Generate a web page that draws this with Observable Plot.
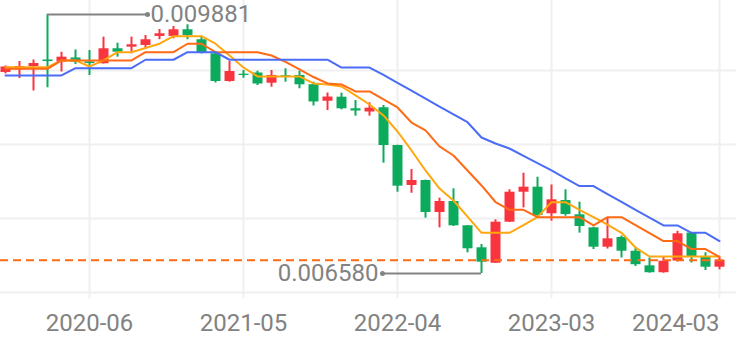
<!DOCTYPE html>
<html><head><meta charset="utf-8">
<script src="https://cdn.jsdelivr.net/npm/d3@7"></script>
<script src="https://cdn.jsdelivr.net/npm/@observablehq/plot@0.6"></script>
<style>
html,body{margin:0;padding:0;background:#fff;}
#chart svg{display:block;}
</style></head><body><div id="chart"></div>
<script>
const months = ["2019-12",
"2020-01","2020-02","2020-03","2020-04","2020-05","2020-06","2020-07","2020-08","2020-09","2020-10","2020-11","2020-12",
"2021-01","2021-02","2021-03","2021-04","2021-05","2021-06","2021-07","2021-08","2021-09","2021-10","2021-11","2021-12",
"2022-01","2022-02","2022-03","2022-04","2022-05","2022-06","2022-07","2022-08","2022-09","2022-10","2022-11","2022-12",
"2023-01","2023-02","2023-03","2023-04","2023-05","2023-06","2023-07","2023-08","2023-09","2023-10","2023-11","2023-12",
"2024-01","2024-02","2024-03"];

const open = [0.009142,0.009176,0.009218,0.009301,0.009273,0.009327,0.009276,0.009253,0.009444,0.009464,
0.009486,0.009601,0.009601,0.009686,0.009559,0.009380,0.009027,0.009120,0.009135,0.009005,
0.009100,0.009104,0.008986,0.008775,0.008827,0.008679,0.008638,0.008692,0.008211,0.007702,
0.007765,0.007357,0.007498,0.007188,0.006908,0.006711,0.007234,0.007616,0.007680,0.007341,
0.007510,0.007328,0.007162,0.006915,0.007039,0.006864,0.006678,0.006590,0.006739,0.007096,
0.006797,0.006660];
const close = [0.009212,0.009218,0.009256,0.009282,0.009337,0.009273,0.009256,0.009444,0.009400,0.009495,
0.009559,0.009635,0.009686,0.009613,0.009384,0.009027,0.009154,0.009104,0.008995,0.009104,
0.009082,0.008985,0.008766,0.008829,0.008679,0.008651,0.008687,0.008211,0.007693,0.007765,
0.007357,0.007498,0.007188,0.006895,0.006724,0.007234,0.007616,0.007680,0.007319,0.007519,
0.007332,0.007179,0.006915,0.007022,0.006864,0.006692,0.006590,0.006737,0.007086,0.006797,
0.006660,0.006749];
const high = [0.009225,0.009282,0.009301,0.009881,0.009400,0.009429,0.009422,0.009592,0.009515,0.009592,
0.009613,0.009690,0.009728,0.009750,0.009592,0.009384,0.009282,0.009167,0.009158,0.009167,
0.009189,0.009158,0.009018,0.008880,0.008878,0.008785,0.008756,0.008721,0.008215,0.007905,
0.007770,0.007540,0.007659,0.007192,0.006950,0.007264,0.007647,0.007858,0.007807,0.007708,
0.007647,0.007489,0.007170,0.007287,0.007058,0.006905,0.006778,0.006793,0.007119,0.007100,
0.006844,0.006780];
const low = [0.009123,0.009065,0.008906,0.008947,0.009148,0.009244,0.009104,0.009250,0.009337,0.009380,
0.009444,0.009559,0.009571,0.009559,0.009378,0.009008,0.009018,0.009069,0.008976,0.008954,
0.009018,0.008934,0.008715,0.008657,0.008666,0.008585,0.008585,0.007986,0.007616,0.007603,
0.007285,0.007162,0.007179,0.006844,0.006580,0.006708,0.007230,0.007417,0.007310,0.007247,
0.007310,0.007094,0.006886,0.006892,0.006778,0.006669,0.006584,0.006584,0.006727,0.006714,
0.006618,0.006627];

const ma5 = [0.009209,0.009209,0.009209,0.009209,0.009295,0.009295,0.009218,0.009295,0.009400,0.009400,
0.009454,0.009508,0.009604,0.009604,0.009604,0.009508,0.009358,0.009205,0.009091,0.009091,
0.009091,0.009091,0.009002,0.008989,0.008963,0.008849,0.008734,0.008594,0.008390,0.008148,
0.007893,0.007663,0.007510,0.007306,0.007099,0.007099,0.007099,0.007198,0.007298,0.007489,
0.007489,0.007392,0.007298,0.007204,0.007099,0.006911,0.006797,0.006797,0.006797,0.006797,
0.006797,0.006797];
const ma10 = [0.009189,0.009189,0.009189,0.009189,0.009295,0.009295,0.009295,0.009295,0.009295,0.009295,
0.009400,0.009400,0.009400,0.009508,0.009508,0.009400,0.009400,0.009400,0.009400,0.009358,
0.009276,0.009180,0.009084,0.009002,0.008989,0.008900,0.008900,0.008798,0.008696,0.008504,
0.008403,0.008199,0.008084,0.007893,0.007702,0.007491,0.007392,0.007392,0.007298,0.007298,
0.007298,0.007298,0.007192,0.007298,0.007298,0.007197,0.007096,0.006993,0.006993,0.006892,
0.006892,0.006790];
const ma20 = [0.009104,0.009104,0.009104,0.009104,0.009104,0.009197,0.009197,0.009197,0.009197,0.009197,
0.009304,0.009304,0.009304,0.009400,0.009400,0.009400,0.009304,0.009304,0.009304,0.009304,
0.009304,0.009304,0.009304,0.009304,0.009205,0.009205,0.009205,0.009110,0.009009,0.008909,
0.008809,0.008708,0.008608,0.008508,0.008313,0.008237,0.008173,0.008078,0.007988,0.007893,
0.007791,0.007695,0.007695,0.007593,0.007493,0.007392,0.007292,0.007192,0.007192,0.007099,
0.007099,0.006994];

const xTickLabels = ["2020-06","2021-05","2022-04","2023-03","2024-03"];
const yGridTicks = [0.006338, 0.007281, 0.008224, 0.009167];
const yDomain = [0.006338, 0.010059];

const RED = "#f8353f", GREEN = "#0caa5d";
const C5 = "#ffa70f", C10 = "#ff6a14", C20 = "#4a6cf6";
const GRID = "#f0f0f0", TXT = "#828282", ANN = "#838383";

const data = months.map((m, i) => ({i, m, o: open[i], c: close[i], h: high[i], l: low[i], up: close[i] >= open[i]}));
const toSeries = arr => arr.map((v, i) => ({i, v}));
const tickIdx = xTickLabels.map(l => months.indexOf(l));
const maxI = d3.maxIndex(high), minI = d3.minIndex(low);
const maxPt = [{i: maxI, v: high[maxI]}], minPt = [{i: minI, v: low[minI]}];
const lastClose = close[close.length - 1];
const fmt = d3.format(".6f");

const axisOpts = {tickSize: 6, tickPadding: 15, stroke: GRID, strokeWidth: 2, fill: TXT, fontSize: 24, tickFormat: i => months[i], label: null};

const chart = Plot.plot({
  width: 736, height: 352,
  marginTop: 0, marginBottom: 60, marginLeft: 0, marginRight: 0,
  x: {type: "linear", domain: [-5 / 14, 731 / 14], label: null},
  y: {type: "linear", domain: yDomain, axis: null, label: null},
  style: {fontFamily: "Roboto, sans-serif", background: "#fff"},
  marks: [
    Plot.gridY(yGridTicks, {stroke: GRID, strokeOpacity: 1, strokeWidth: 2}),
    Plot.gridX(tickIdx, {stroke: GRID, strokeOpacity: 1, strokeWidth: 2}),
    Plot.axisX(tickIdx.slice(0, -1), {...axisOpts, textAnchor: "middle"}),
    Plot.axisX(tickIdx.slice(-1), {...axisOpts, textAnchor: "end"}),
    Plot.ruleX(data.filter(d => d.up), {x: "i", y1: "l", y2: "h", stroke: RED, strokeWidth: 2}),
    Plot.ruleX(data.filter(d => !d.up), {x: "i", y1: "l", y2: "h", stroke: GREEN, strokeWidth: 2}),
    Plot.ruleX(data.filter(d => d.up), {x: "i", y1: "o", y2: "c", stroke: RED, strokeWidth: 10}),
    Plot.ruleX(data.filter(d => !d.up), {x: "i", y1: "o", y2: "c", stroke: GREEN, strokeWidth: 10}),
    Plot.line(toSeries(ma5), {x: "i", y: "v", stroke: C5, strokeWidth: 2}),
    Plot.line(toSeries(ma10), {x: "i", y: "v", stroke: C10, strokeWidth: 2}),
    Plot.line(toSeries(ma20), {x: "i", y: "v", stroke: C20, strokeWidth: 2}),
    Plot.ruleY([lastClose], {stroke: C10, strokeWidth: 2, strokeDasharray: "8,5", insetRight: 8}),
    Plot.ruleY(maxPt, {x1: "i", x2: "i", y: "v", stroke: ANN, strokeWidth: 2, insetRight: -100}),
    Plot.dot(maxPt, {x: "i", y: "v", dx: 100, r: 2.5, fill: ANN, stroke: null}),
    Plot.text(maxPt, {x: "i", y: "v", dx: 103, text: d => fmt(d.v), textAnchor: "start", fill: TXT, fontSize: 24}),
    Plot.ruleY(minPt, {x1: "i", x2: "i", y: "v", stroke: ANN, strokeWidth: 2, insetLeft: -99}),
    Plot.dot(minPt, {x: "i", y: "v", dx: -99, r: 2.5, fill: ANN, stroke: null}),
    Plot.text(minPt, {x: "i", y: "v", dx: -103, text: d => fmt(d.v), textAnchor: "end", fill: TXT, fontSize: 24})
  ]
});
document.getElementById("chart").appendChild(chart);
</script>
</body></html>
